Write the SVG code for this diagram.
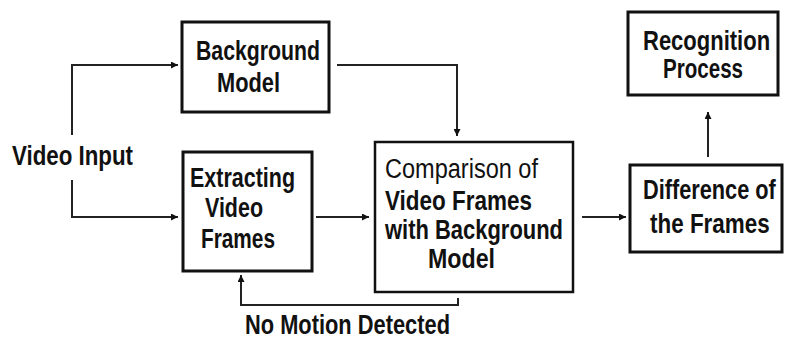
<svg xmlns="http://www.w3.org/2000/svg" width="785" height="340" viewBox="0 0 785 340">
  <style>
    .box { fill: #ffffff; stroke: #111111; stroke-width: 3; }
    .box-thin { fill: #ffffff; stroke: #111111; stroke-width: 2.5; }
    .wire { fill: none; stroke: #222222; stroke-width: 2; }
    .lbl { font-family: "Liberation Sans", Arial, sans-serif; font-weight: bold; font-size: 27px; fill: #111111; }
    .lbl-light { font-family: "Liberation Sans", Arial, sans-serif; font-weight: normal; font-size: 27px; fill: #111111; }
  </style>
  <defs>
    <marker id="arrow" viewBox="0 0 10 10" refX="10" refY="5" markerWidth="9" markerHeight="7" markerUnits="userSpaceOnUse" orient="auto">
      <path d="M0,0 L10,5 L0,10 Z" fill="#111111"/>
    </marker>
  </defs>
  <rect width="785" height="340" fill="#ffffff"/>

  <g id="connectors">
    <!-- Video input splits to both boxes -->
    <path class="wire" d="M72,135 V65 H178" marker-end="url(#arrow)"/>
    <path class="wire" d="M72,180 V217 H178" marker-end="url(#arrow)"/>
    <!-- Background model feeds comparison -->
    <path class="wire" d="M337,65 H457 V136" marker-end="url(#arrow)"/>
    <!-- Extracting -> comparison -->
    <path class="wire" d="M316,217 H369" marker-end="url(#arrow)"/>
    <!-- Comparison -> difference -->
    <path class="wire" d="M582,217 H626" marker-end="url(#arrow)"/>
    <!-- Difference -> recognition -->
    <path class="wire" d="M708,157 V112" marker-end="url(#arrow)"/>
    <!-- No motion feedback loop -->
    <path class="wire" d="M458,298 V305 H241 V275" marker-end="url(#arrow)"/>
  </g>

  <text class="lbl" x="12" y="165" textLength="121" lengthAdjust="spacingAndGlyphs" font-size="28">Video Input</text>

  <g id="background-model">
    <rect class="box" x="182" y="22" width="147" height="90"/>
    <text class="lbl" x="196" y="60" textLength="124" lengthAdjust="spacingAndGlyphs">Background</text>
    <text class="lbl" x="217" y="92" textLength="63" lengthAdjust="spacingAndGlyphs">Model</text>
  </g>

  <g id="extracting-frames">
    <rect class="box" x="183" y="152" width="129" height="119"/>
    <text class="lbl" x="190" y="187" textLength="105" lengthAdjust="spacingAndGlyphs">Extracting</text>
    <text class="lbl" x="205" y="217" textLength="58" lengthAdjust="spacingAndGlyphs">Video</text>
    <text class="lbl" x="201" y="248" textLength="74" lengthAdjust="spacingAndGlyphs">Frames</text>
  </g>

  <g id="comparison">
    <rect class="box-thin" x="375" y="142" width="198" height="150"/>
    <text class="lbl-light" x="385" y="178" textLength="153" lengthAdjust="spacingAndGlyphs">Comparison of</text>
    <text class="lbl" x="385" y="210" textLength="147" lengthAdjust="spacingAndGlyphs">Video Frames</text>
    <text class="lbl" x="385" y="239" textLength="178" lengthAdjust="spacingAndGlyphs">with Background</text>
    <text class="lbl" x="428" y="268" textLength="67" lengthAdjust="spacingAndGlyphs">Model</text>
  </g>

  <!-- right-hand column: labels drawn horizontally condensed -->
  <g id="difference">
    <rect class="box" x="630" y="165" width="152" height="87"/>
    <text class="lbl" transform="translate(643,199) scale(0.82,1)" x="0" y="0" textLength="162" lengthAdjust="spacingAndGlyphs">Difference of</text>
    <text class="lbl" transform="translate(650,233) scale(0.82,1)" x="0" y="0" textLength="146" lengthAdjust="spacingAndGlyphs">the Frames</text>
  </g>

  <g id="recognition">
    <rect class="box" x="628" y="12" width="150" height="83"/>
    <text class="lbl" transform="translate(643,50) scale(0.82,1)" x="0" y="0" textLength="155" lengthAdjust="spacingAndGlyphs" font-size="26">Recognition</text>
    <text class="lbl" x="663" y="78" textLength="80" lengthAdjust="spacingAndGlyphs" font-size="26">Process</text>
  </g>

  <text class="lbl" x="245" y="334" textLength="205" lengthAdjust="spacingAndGlyphs" font-size="26">No Motion Detected</text>
</svg>
